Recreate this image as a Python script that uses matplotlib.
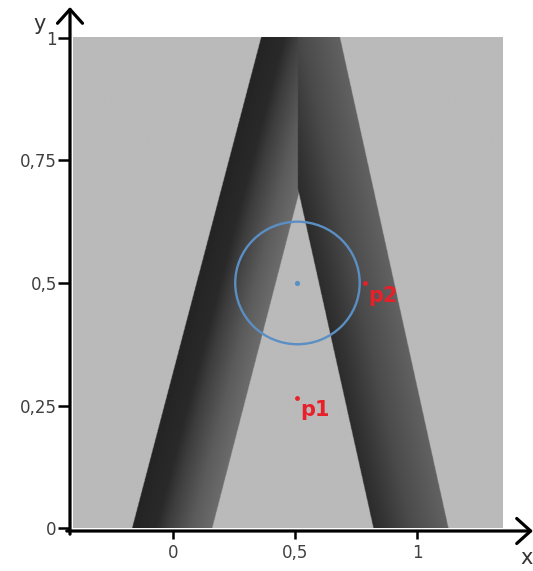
import numpy as np
import matplotlib
matplotlib.use('Agg')
import matplotlib.pyplot as plt
from matplotlib.patches import Ellipse

# ---------------- data ----------------
x_ticks = [0, 0.5, 1]
x_tick_labels = ['0', '0,5', '1']
y_ticks = [0, 0.25, 0.5, 0.75, 1]
y_tick_labels = ['0', '0,25', '0,5', '0,75', '1']

image_extent = [-0.41, 1.35, 0.0, 1.0]
background_gray = 186

# band edges: x at y=0 and x at y=1
left_outer = [-0.168, 0.360]
left_inner = [0.160, 0.680]
right_inner = [0.820, 0.373]
right_outer = [1.127, 0.683]
seam_x = 0.51

# shading profiles across each band (0 = left edge of band, 1 = right edge)
left_shade_pos = [0.0, 0.30, 0.45, 0.75, 1.0]
left_shade_gray = [36, 42, 62, 92, 108]
right_shade_pos = [0.0, 0.15, 0.5, 1.0]
right_shade_gray = [44, 52, 75, 98]

circle_center = (0.51, 0.5)
circle_width = 0.51
circle_height = 0.25

points_x = [0.507, 0.785]
points_y = [0.266, 0.5]
points_labels = ['p1', 'p2']

# ---------------- figure ----------------
W, H = 533, 571
fig = plt.figure(figsize=(W / 100, H / 100), dpi=100)
ax_left, ax_right, ax_bottom, ax_top = 70, 533, 531, 7
ax = fig.add_axes([ax_left / W, (H - ax_bottom) / H,
                   (ax_right - ax_left) / W, (ax_bottom - ax_top) / H])
ax.set_xlim(-0.422, 1.475)
ax.set_ylim(-0.006, 1.063)

# build shaded image
nx, ny = 1000, 700
xs = np.linspace(image_extent[0], image_extent[1], nx)
ys = np.linspace(image_extent[2], image_extent[3], ny)
X, Y = np.meshgrid(xs, ys)

lo = left_outer[0] + (left_outer[1] - left_outer[0]) * Y
li = left_inner[0] + (left_inner[1] - left_inner[0]) * Y
ri = right_inner[0] + (right_inner[1] - right_inner[0]) * Y
ro = right_outer[0] + (right_outer[1] - right_outer[0]) * Y
u = (X - lo) / (li - lo)
v = (X - ri) / (ro - ri)
inL = (u >= 0) & (u <= 1)
inR = (v >= 0) & (v <= 1)
gL = np.interp(u, left_shade_pos, left_shade_gray)
gR = np.interp(v, right_shade_pos, right_shade_gray)
img = np.full(X.shape, float(background_gray))
useL = inL & ~(inR & (X >= seam_x))
useR = inR & ~useL
img[useL] = gL[useL]
img[useR] = gR[useR]

ax.imshow(img, cmap='gray', vmin=0, vmax=255, extent=image_extent,
          origin='lower', aspect='auto', interpolation='bilinear', zorder=0)

# circle and center
blue = '#5b8fc4'
ax.add_patch(Ellipse(circle_center, circle_width, circle_height, fill=False,
                     edgecolor=blue, lw=1.7, zorder=3))
ax.scatter([circle_center[0]], [circle_center[1]], s=14, color=blue, zorder=4,
           linewidths=0)

# points
red = '#e8202a'
ax.scatter(points_x, points_y, s=12, color=red, zorder=5, linewidths=0)
for px, py, lab in zip(points_x, points_y, points_labels):
    ax.annotate(lab, (px, py), xytext=(2.5, -2.0), textcoords='offset points',
                ha='left', va='top', color=red, fontsize=15, fontweight='bold',
                zorder=6)

# axes styling
for s in ax.spines.values():
    s.set_visible(False)
ax.set_xticks(x_ticks)
ax.set_xticklabels(x_tick_labels)
ax.set_yticks(y_ticks)
ax.set_yticklabels(y_tick_labels)
ax.tick_params(axis='x', length=5.5, width=1.8, direction='out', pad=4,
               labelsize=12, labelcolor='#404040', color='black')
ax.tick_params(axis='y', length=8.5, width=1.8, direction='out', pad=1,
               labelsize=12, labelcolor='#404040', color='black')

arrow = dict(arrowstyle='->,head_length=0.5,head_width=0.45', lw=2.3,
             color='black', shrinkA=0, shrinkB=0, mutation_scale=20)
ax.annotate('', xy=(1.0, 0.0), xytext=(-0.007, 0.0), xycoords='axes fraction',
            textcoords='axes fraction', arrowprops=arrow, annotation_clip=False)
ax.annotate('', xy=(0.0, 1.0), xytext=(0.0, -0.006), xycoords='axes fraction',
            textcoords='axes fraction', arrowprops=arrow, annotation_clip=False)

fig.text(40 / W, 1 - 24 / H, 'y', ha='center', va='center', fontsize=15,
         color='#333333')
fig.text(527 / W, 1 - 558 / H, 'x', ha='center', va='center', fontsize=15,
         color='#333333')

fig.savefig('out.png', dpi=100)
